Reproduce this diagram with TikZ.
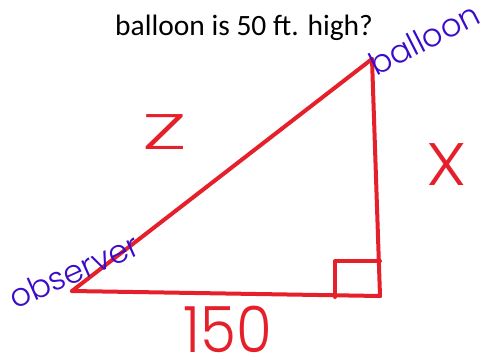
\documentclass[tikz,border=0pt]{standalone}
\usepackage{fontspec}
\setmainfont{Carlito}
\newfontfamily\handfont{Poppins Light}
\definecolor{penred}{HTML}{E5202A}
\definecolor{penblue}{HTML}{3A0BC8}
\begin{document}
\begin{tikzpicture}[x=1pt,y=-1pt,
  redline/.style={penred,line width=4pt,line cap=round,line join=round},
  handlabel/.style={font=\handfont\fontsize{32}{34}\selectfont,inner sep=0pt},
  bluelabel/.style={handlabel,penblue},
  redlabel/.style={handlabel,penred}]
\useasboundingbox (0,0) rectangle (489,362);
\node[anchor=base west,inner sep=0pt,font=\fontsize{29.5}{32}\selectfont] (q) at (115,35) {balloon is 50 ft. high?};
\coordinate (obs) at (72,291);
\coordinate (bal) at (372,59);
\coordinate (rt) at (380,296);
\coordinate (sqa) at (335,297);
\coordinate (sqb) at (335,261);
\coordinate (sqc) at (380,261);
\draw[redline] (obs) -- (bal);
\draw[redline] (bal) -- (rt);
\draw[redline] (obs) -- (rt);
\draw[redline] (sqa) -- (sqb) -- (sqc);
\node[redlabel,font=\handfont\fontsize{50}{52}\selectfont,xscale=1.7] (z) at (165,132) {Z};
\node[redlabel,font=\handfont\fontsize{60}{62}\selectfont,xscale=1.15] (x) at (447,165) {X};
\node[redlabel,font=\handfont\fontsize{58}{60}\selectfont,yscale=1.1,anchor=base] (n) at (228,352) {150};
\node[bluelabel,rotate=27] (b) at (424,39) {balloon};
\node[bluelabel,rotate=24] (o) at (74,271) {observer};
\end{tikzpicture}
\end{document}
